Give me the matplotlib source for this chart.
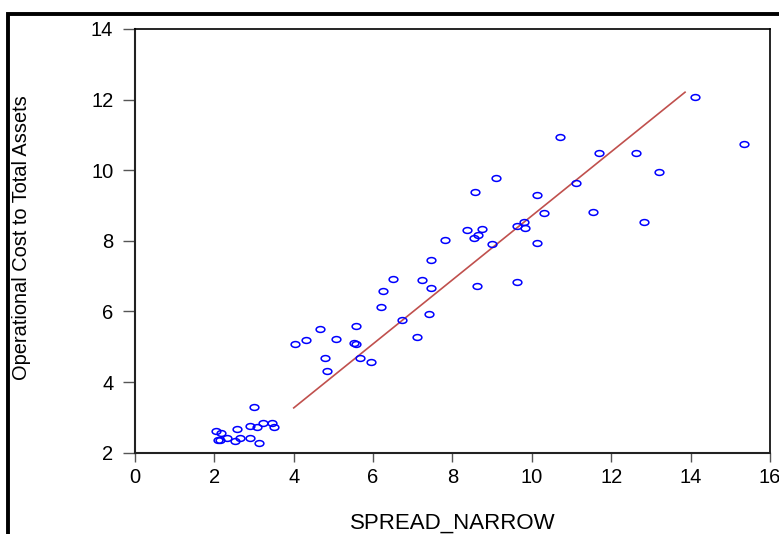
import matplotlib

matplotlib.use("Agg")
import matplotlib.pyplot as plt
from matplotlib import font_manager
from matplotlib.patches import Rectangle
from matplotlib.path import Path
from matplotlib.transforms import Affine2D

# scatter values
spread = [2.04, 2.17, 2.10, 2.14, 2.31, 2.56, 2.52, 2.65, 2.90, 2.90, 3.00, 3.07,
          3.13, 3.23, 3.44, 3.50,
          4.04, 4.31, 4.65, 4.78, 4.85, 5.07, 5.57, 5.53, 5.57, 5.67, 5.95, 6.19,
          6.25, 6.51, 6.73, 7.10, 7.24, 7.47, 7.47, 7.42, 7.82, 8.36, 8.53, 8.64,
          8.75, 8.57, 9.10, 8.62, 9.00, 9.62, 9.79, 9.83, 9.62, 10.13, 10.14, 10.30,
          10.72, 11.11, 11.70, 11.55, 12.62, 13.20, 12.83, 14.12, 15.34]
op_cost = [2.61, 2.55, 2.36, 2.35, 2.43, 2.66, 2.33, 2.43, 2.77, 2.42, 3.30, 2.74,
           2.28, 2.84, 2.84, 2.72,
           5.07, 5.20, 5.51, 4.68, 4.32, 5.23, 5.60, 5.10, 5.07, 4.69, 4.57, 6.12,
           6.59, 6.93, 5.77, 5.29, 6.90, 7.45, 6.67, 5.92, 8.02, 8.30, 8.08, 8.17,
           8.33, 9.37, 9.77, 6.73, 7.92, 8.43, 8.52, 8.37, 6.83, 9.29, 7.93, 8.78,
           10.95, 9.64, 10.49, 8.81, 10.50, 9.95, 8.53, 12.08, 10.73]

# fitted line end points
fit_x = [4.0, 13.86]
fit_y = [3.27, 12.21]

x_ticks = [0, 2, 4, 6, 8, 10, 12, 14, 16]
y_ticks = [2, 4, 6, 8, 10, 12, 14]

installed = {f.name for f in font_manager.fontManager.ttflist}
narrow = "Liberation Sans Narrow" in installed

plt.rcParams["font.family"] = ["Liberation Sans", "DejaVu Sans"]

fig = plt.figure(figsize=(7.79, 5.34), dpi=100)
ax = fig.add_axes([0.1733, 0.1522, 0.8151, 0.7935])

# EViews-style squashed open circles
ellipse = Path.unit_circle().transformed(Affine2D().scale(1.5, 1.0))
ax.plot(spread, op_cost, linestyle="none", marker=ellipse, markersize=6.3,
        markerfacecolor="none", markeredgecolor="#0000FF", markeredgewidth=1.1,
        zorder=3)
ax.plot(fit_x, fit_y, color="#C0504D", lw=1.2, zorder=2)

ax.set_xlim(0, 16)
ax.set_ylim(2, 14)
ax.set_xticks(x_ticks)
ax.set_yticks(y_ticks)
ax.tick_params(axis="both", labelsize=14.5, color="#555555", width=1.0)
ax.tick_params(axis="y", length=8.6, pad=7)
ax.tick_params(axis="x", length=6.5, pad=4.5)
for side in ("left", "bottom"):
    ax.spines[side].set_linewidth(1.5)
    ax.spines[side].set_color("#222222")
for side in ("top", "right"):
    ax.spines[side].set_linewidth(1.2)

ax.set_xlabel("SPREAD_NARROW", fontsize=16)
ax.xaxis.set_label_coords(0.5, -0.141)
if narrow:
    ax.set_ylabel("Operational Cost to Total Assets",
                  family=["Liberation Sans Narrow", "Liberation Sans"], fontsize=17.4)
else:
    ax.set_ylabel("Operational Cost to Total Assets", fontsize=14.4)
ax.yaxis.set_label_coords(-0.164, 0.508)

# outer frame of the original (cropped on the right and bottom)
fig.add_artist(Rectangle((0.0103, -0.2), 1.2, 0.2 + 0.9747, transform=fig.transFigure,
                         fill=False, lw=2.8, edgecolor="black"))

fig.savefig("out.png", dpi=100)
